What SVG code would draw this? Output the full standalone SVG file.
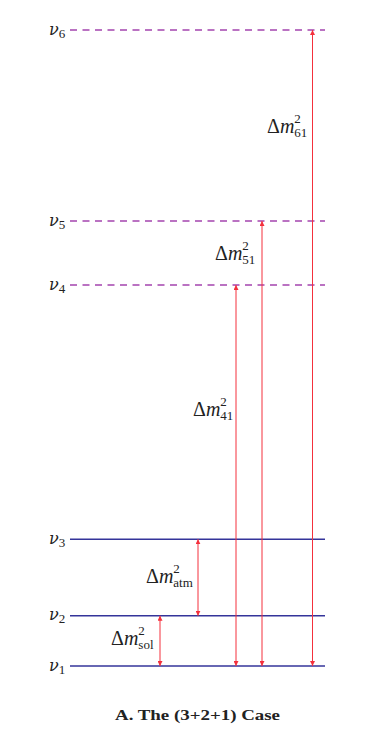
<svg xmlns="http://www.w3.org/2000/svg" width="382" height="753" viewBox="0 0 382 753">
<style>
.lvl{stroke:#34349a;stroke-width:1.6;fill:none}
.st{stroke:#a444ae;stroke-width:1.6;fill:none;stroke-dasharray:7 5.5}
.arr{stroke:#f4303c;stroke-width:1;fill:none;marker-start:url(#ah);marker-end:url(#ah)}
.lab{font-family:"Liberation Serif",serif;fill:#222}
.nu{font-family:"DejaVu Serif",serif;font-size:16px;font-style:italic;fill:#222}
.nsub{font-family:"Liberation Serif",serif;font-size:13px;font-style:normal}
.sub{font-size:13px}
.dm{font-size:20px}
.cap{font-family:"Liberation Serif",serif;font-weight:bold;font-size:15px;fill:#222}
</style>
<defs>
<marker id="ah" viewBox="0 0 10 10" refX="10" refY="5" markerWidth="5" markerHeight="5" orient="auto-start-reverse" markerUnits="userSpaceOnUse">
<path d="M0,0 L10,5 L0,10 Z" fill="#f4303c"/>
</marker>
</defs>
<rect width="382" height="753" fill="#fff"/>
<g id="nu6"><line class="st" x1="70" y1="30" x2="325" y2="30"/><text class="nu" x="49" y="35">ν<tspan class="nsub" dy="3">6</tspan></text></g>
<g id="nu5"><line class="st" x1="70" y1="221" x2="325" y2="221"/><text class="nu" x="49" y="226">ν<tspan class="nsub" dy="3">5</tspan></text></g>
<g id="nu4"><line class="st" x1="70" y1="285" x2="325" y2="285"/><text class="nu" x="49" y="290">ν<tspan class="nsub" dy="3">4</tspan></text></g>
<g id="nu3"><line class="lvl" x1="70" y1="539.3" x2="325" y2="539.3"/><text class="nu" x="49" y="544">ν<tspan class="nsub" dy="3">3</tspan></text></g>
<g id="nu2"><line class="lvl" x1="70" y1="615.7" x2="325" y2="615.7"/><text class="nu" x="49" y="620">ν<tspan class="nsub" dy="3">2</tspan></text></g>
<g id="nu1"><line class="lvl" x1="70" y1="666" x2="325" y2="666"/><text class="nu" x="49" y="671">ν<tspan class="nsub" dy="3">1</tspan></text></g>
<g id="connectors">
<line class="arr" x1="160" y1="666" x2="160" y2="615.7"/>
<line class="arr" x1="198" y1="615.7" x2="198" y2="539.3"/>
<line class="arr" x1="236" y1="666" x2="236" y2="285"/>
<line class="arr" x1="262" y1="666" x2="262" y2="221"/>
<line class="arr" x1="312.5" y1="666" x2="312.5" y2="30"/>
</g>
<g id="labels">
<text class="lab dm" x="111" y="645">Δ<tspan font-style="italic">m</tspan><tspan class="sub" dy="-10">2</tspan><tspan class="sub" dx="-6.5" dy="14">sol</tspan></text>
<text class="lab dm" x="146" y="583">Δ<tspan font-style="italic">m</tspan><tspan class="sub" dy="-10">2</tspan><tspan class="sub" dx="-6.5" dy="14">atm</tspan></text>
<text class="lab dm" x="193" y="416">Δ<tspan font-style="italic">m</tspan><tspan class="sub" dy="-10">2</tspan><tspan class="sub" dx="-6.5" dy="14">41</tspan></text>
<text class="lab dm" x="215" y="260">Δ<tspan font-style="italic">m</tspan><tspan class="sub" dy="-10">2</tspan><tspan class="sub" dx="-6.5" dy="14">51</tspan></text>
<text class="lab dm" x="267" y="133">Δ<tspan font-style="italic">m</tspan><tspan class="sub" dy="-10">2</tspan><tspan class="sub" dx="-6.5" dy="14">61</tspan></text>
</g>
<text class="cap" x="115" y="720" textLength="165" lengthAdjust="spacingAndGlyphs">A. The (3+2+1) Case</text>
</svg>
